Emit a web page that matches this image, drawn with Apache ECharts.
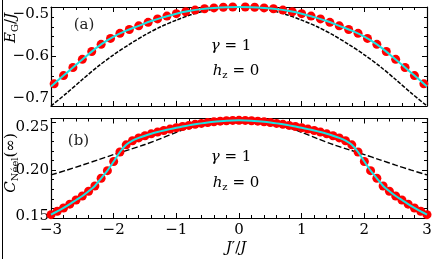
<!DOCTYPE html>
<html>
<head>
<meta charset="utf-8">
<script src="https://cdn.jsdelivr.net/npm/echarts@6/dist/echarts.min.js"></script>
<style>html,body{margin:0;padding:0;background:#fff}#c{width:435px;height:259px}</style>
</head>
<body>
<div id="c"></div>
<script>
// ---------- data ----------
// panel (a): ground-state energy E_G/J vs J'/J
const jDotsA = [-2.95,-2.8,-2.65,-2.5,-2.35,-2.2,-2.05,-1.9,-1.75,-1.6,-1.45,-1.3,-1.15,-1.0,-0.85,-0.7,-0.55,-0.4,-0.25,-0.1,
                0.1,0.25,0.4,0.55,0.7,0.85,1.0,1.15,1.3,1.45,1.6,1.75,1.9,2.05,2.2,2.35,2.5,2.65,2.8,2.95];
const egDotsA = [-0.6552,-0.6385,-0.6222,-0.6058,-0.5900,-0.5755,-0.5635,-0.5532,-0.5455,-0.5380,-0.5310,-0.5240,-0.5183,-0.5135,-0.5095,-0.5062,-0.5036,-0.5018,-0.5006,-0.5000,
                 -0.5000,-0.5006,-0.5018,-0.5036,-0.5062,-0.5095,-0.5135,-0.5183,-0.5240,-0.5310,-0.5380,-0.5455,-0.5532,-0.5635,-0.5755,-0.5900,-0.6058,-0.6222,-0.6385,-0.6552];
const jLineA = [-3.0,-2.8,-2.6,-2.4,-2.2,-2.0,-1.8,-1.6,-1.4,-1.2,-1.0,-0.8,-0.6,-0.4,-0.2,0,
                0.2,0.4,0.6,0.8,1.0,1.2,1.4,1.6,1.8,2.0,2.2,2.4,2.6,2.8,3.0];
const egLineA = [-0.6605,-0.6385,-0.6167,-0.5953,-0.5755,-0.5598,-0.5478,-0.5380,-0.5283,-0.5205,-0.5135,-0.5083,-0.5043,-0.5018,-0.5004,-0.5000,
                 -0.5004,-0.5018,-0.5043,-0.5083,-0.5135,-0.5205,-0.5283,-0.5380,-0.5478,-0.5598,-0.5755,-0.5953,-0.6167,-0.6385,-0.6605];
const jDashA = [-3,-2.75,-2.5,-2.25,-2,-1.75,-1.5,-1.25,-1,-0.75,-0.5,-0.25,0,0.25,0.5,0.75,1,1.25,1.5,1.75,2,2.25,2.5,2.75,3];
const egDashA = [-0.700,-0.674,-0.6465,-0.620,-0.5965,-0.5755,-0.5565,-0.5400,-0.5265,-0.5150,-0.5065,-0.5017,-0.5000,
                 -0.5017,-0.5065,-0.5150,-0.5265,-0.5400,-0.5565,-0.5755,-0.5965,-0.620,-0.6465,-0.674,-0.700];

// panel (b): C_Neel vs J'/J
const jB = [-3.0,-2.9,-2.8,-2.7,-2.6,-2.5,-2.4,-2.3,-2.2,-2.1,-2.0,-1.9,-1.8,-1.7,-1.6,-1.5,-1.4,-1.3,-1.2,-1.1,-1.0,-0.9,-0.8,-0.7,-0.6,-0.5,-0.4,-0.3,-0.2,-0.1,0,
            0.1,0.2,0.3,0.4,0.5,0.6,0.7,0.8,0.9,1.0,1.1,1.2,1.3,1.4,1.5,1.6,1.7,1.8,1.9,2.0,2.1,2.2,2.3,2.4,2.5,2.6,2.7,2.8,2.9,3.0];
const cDotsB = [0.1535,0.1570,0.1605,0.1645,0.1688,0.1730,0.1780,0.1835,0.1915,0.1995,0.2090,0.2190,0.2265,0.2308,0.2337,0.2360,0.2380,0.2398,0.2414,0.2429,0.2443,0.2456,0.2468,0.2479,0.2489,0.2498,0.2506,0.2512,0.2517,0.2520,0.2521,
                0.2520,0.2517,0.2512,0.2506,0.2498,0.2489,0.2479,0.2468,0.2456,0.2443,0.2429,0.2414,0.2398,0.2380,0.2360,0.2337,0.2308,0.2265,0.2190,0.2090,0.1995,0.1915,0.1835,0.1780,0.1730,0.1688,0.1645,0.1605,0.1570,0.1535];
const jDashB = [-3,-2.75,-2.5,-2.25,-2,-1.75,-1.5,-1.25,-1,-0.75,-0.5,-0.25,0,0.25,0.5,0.75,1,1.25,1.5,1.75,2,2.25,2.5,2.75,3];
const cDashB = [0.195,0.200,0.2053,0.2108,0.2163,0.2215,0.2268,0.2330,0.2395,0.2455,0.2498,0.2518,0.2525,
                0.2518,0.2498,0.2455,0.2395,0.2330,0.2268,0.2215,0.2163,0.2108,0.2053,0.200,0.195];

// axis ranges / ticks
const xTicks = {min: -3, max: 3, interval: 1};
const yRangeA = {min: -0.7, max: -0.5, interval: 0.1};
const yRangeB = {min: 0.15, max: 0.254, major: 0.05, minor: 0.01};

// ---------- helpers ----------
const FF = "'DejaVu Serif', serif";
const zip = (xs, ys) => xs.map((x, i) => [x, ys[i]]);
const minus = s => String(s).replace('-', '\u2212');
const axLine = {show: true, onZero: false, lineStyle: {color: '#000', width: 1.2}};
const noLine = {show: false, onZero: false};

function xAx(grid, pos, labels) {
  return {
    type: 'value', gridIndex: grid, position: pos, min: xTicks.min, max: xTicks.max, interval: xTicks.interval,
    axisLine: axLine,
    axisTick: {show: true, inside: true, length: 5, lineStyle: {color: '#000', width: 1}},
    minorTick: {show: true, splitNumber: 5, length: 3, lineStyle: {color: '#000', width: 1}},
    splitLine: {show: false}, minorSplitLine: {show: false},
    axisLabel: {show: labels, margin: 5, color: '#000', fontFamily: FF, fontSize: 15,
      formatter: v => minus(Math.round(v))}
  };
}
const tickCommon = (len) => ({show: true, inside: true, length: len, lineStyle: {color: '#000', width: 1}});

const option = {
  animation: false,
  backgroundColor: '#fff',
  grid: [
    {left: 51, top: 7, width: 376, height: 99, containLabel: false, outerBoundsMode: 'none'},
    {left: 51, top: 118.5, width: 376, height: 99.5, containLabel: false, outerBoundsMode: 'none'}
  ],
  xAxis: [xAx(0, 'bottom', false), xAx(0, 'top', false), xAx(1, 'bottom', true), xAx(1, 'top', false)],
  yAxis: [
    { // 0: panel a left
      type: 'value', gridIndex: 0, position: 'left', min: yRangeA.min, max: yRangeA.max, interval: yRangeA.interval,
      axisLine: axLine, axisTick: tickCommon(5),
      minorTick: {show: true, splitNumber: 5, length: 3, lineStyle: {color: '#000', width: 1}},
      splitLine: {show: false},
      axisLabel: {margin: 2, color: '#000', fontFamily: FF, fontSize: 15,
        verticalAlignMinLabel: 'bottom', verticalAlignMaxLabel: 'top',
        formatter: v => minus(v.toFixed(1))}
    },
    { // 1: panel a right
      type: 'value', gridIndex: 0, position: 'right', min: yRangeA.min, max: yRangeA.max, interval: yRangeA.interval,
      axisLine: axLine, axisTick: tickCommon(5),
      minorTick: {show: true, splitNumber: 5, length: 3, lineStyle: {color: '#000', width: 1}},
      splitLine: {show: false}, axisLabel: {show: false}
    },
    { // 2: panel b left, major
      type: 'value', gridIndex: 1, position: 'left', min: yRangeB.min, max: yRangeB.max, interval: yRangeB.major,
      axisLine: axLine, axisTick: tickCommon(5),
      splitLine: {show: false},
      axisLabel: {margin: 2, color: '#000', fontFamily: FF, fontSize: 15, showMaxLabel: false, showMinLabel: true,
        formatter: v => Math.abs(v - 0.25) < 1e-9 ? '{t|0.25}' : (Math.abs(v - 0.15) < 1e-9 ? '{b|0.15}' : v.toFixed(2)),
        rich: {t: {fontFamily: FF, fontSize: 15, color: '#000', padding: [9, 0, 0, 0]},
               b: {fontFamily: FF, fontSize: 15, color: '#000', padding: [0, 0, 3, 0]}}}
    },
    { // 3: panel b left, minor
      type: 'value', gridIndex: 1, position: 'left', min: yRangeB.min, max: yRangeB.max, interval: yRangeB.minor,
      axisLine: noLine, axisTick: tickCommon(3), splitLine: {show: false}, axisLabel: {show: false}
    },
    { // 4: panel b right, major
      type: 'value', gridIndex: 1, position: 'right', min: yRangeB.min, max: yRangeB.max, interval: yRangeB.major,
      axisLine: axLine, axisTick: tickCommon(5), splitLine: {show: false}, axisLabel: {show: false}
    },
    { // 5: panel b right, minor
      type: 'value', gridIndex: 1, position: 'right', min: yRangeB.min, max: yRangeB.max, interval: yRangeB.minor,
      axisLine: noLine, axisTick: tickCommon(3), splitLine: {show: false}, axisLabel: {show: false}
    }
  ],
  series: [
    {type: 'line', xAxisIndex: 0, yAxisIndex: 0, data: zip(jDashA, egDashA), symbol: 'none', smooth: 0.3, z: 2,
      lineStyle: {color: '#000', width: 1.5, type: [4, 1.5]}},
    {type: 'scatter', xAxisIndex: 0, yAxisIndex: 0, data: zip(jDotsA, egDotsA), symbolSize: 9, z: 3,
      itemStyle: {color: '#ff0000', opacity: 1}},
    {type: 'line', xAxisIndex: 0, yAxisIndex: 0, data: zip(jLineA, egLineA), symbol: 'none', smooth: 0.4, z: 4,
      lineStyle: {color: '#19e3e3', width: 2}},

    {type: 'line', xAxisIndex: 2, yAxisIndex: 2, data: zip(jDashB, cDashB), symbol: 'none', smooth: 0.3, z: 2,
      lineStyle: {color: '#000', width: 1.4, type: [6, 2.5]}},
    {type: 'scatter', xAxisIndex: 2, yAxisIndex: 2, data: zip(jB, cDotsB), symbolSize: 9, z: 3,
      itemStyle: {color: '#ff0000', opacity: 1}},
    {type: 'line', xAxisIndex: 2, yAxisIndex: 2, data: zip(jB, cDotsB), symbol: 'none', smooth: 0.3, z: 4,
      lineStyle: {color: '#19e3e3', width: 2}}
  ],
  graphic: [
    {type: 'line', shape: {x1: 2.5, y1: 0, x2: 2.5, y2: 259}, style: {stroke: '#000', lineWidth: 1}},
    {type: 'text', x: 84, y: 25, style: {text: '(a)', font: '15px ' + FF, fill: '#222', textAlign: 'center', textVerticalAlign: 'middle', align: 'center', verticalAlign: 'middle'}},
    {type: 'text', x: 78.5, y: 141.5, style: {text: '(b)', font: '15px ' + FF, fill: '#222', textAlign: 'center', textVerticalAlign: 'middle', align: 'center', verticalAlign: 'middle'}},
    {type: 'text', x: 231, y: 46, style: {text: '{i|γ}{r| = 1}', textAlign: 'center', textVerticalAlign: 'middle', align: 'center', verticalAlign: 'middle',
      rich: {i: {fontFamily: FF, fontStyle: 'italic', fontSize: 15, lineHeight: 18, color: '#222'},
             r: {fontFamily: FF, fontSize: 15, lineHeight: 18, color: '#222'}}}},
    {type: 'text', x: 236, y: 71, style: {text: '{i|h}{s|z}{r| = 0}', textAlign: 'center', textVerticalAlign: 'middle', align: 'center', verticalAlign: 'middle',
      rich: {i: {fontFamily: FF, fontStyle: 'italic', fontSize: 15, lineHeight: 18, color: '#222'},
             s: {fontFamily: FF, fontSize: 10, lineHeight: 10, verticalAlign: 'bottom', color: '#222'},
             r: {fontFamily: FF, fontSize: 15, lineHeight: 18, color: '#222'}}}},
    {type: 'text', x: 231, y: 157, style: {text: '{i|γ}{r| = 1}', textAlign: 'center', textVerticalAlign: 'middle', align: 'center', verticalAlign: 'middle',
      rich: {i: {fontFamily: FF, fontStyle: 'italic', fontSize: 15, lineHeight: 18, color: '#222'},
             r: {fontFamily: FF, fontSize: 15, lineHeight: 18, color: '#222'}}}},
    {type: 'text', x: 236, y: 183, style: {text: '{i|h}{s|z}{r| = 0}', textAlign: 'center', textVerticalAlign: 'middle', align: 'center', verticalAlign: 'middle',
      rich: {i: {fontFamily: FF, fontStyle: 'italic', fontSize: 15, lineHeight: 18, color: '#222'},
             s: {fontFamily: FF, fontSize: 10, lineHeight: 10, verticalAlign: 'bottom', color: '#222'},
             r: {fontFamily: FF, fontSize: 15, lineHeight: 18, color: '#222'}}}},
    {type: 'text', x: 236, y: 248, style: {text: '{i|J}{r|′/}{i|J}', textAlign: 'center', textVerticalAlign: 'middle', align: 'center', verticalAlign: 'middle',
      rich: {i: {fontFamily: FF, fontStyle: 'italic', fontSize: 15, lineHeight: 18, color: '#222'},
             r: {fontFamily: FF, fontSize: 15, lineHeight: 18, color: '#222'}}}},
    {type: 'text', x: 11, y: 28, rotation: Math.PI / 2, style: {text: '{i|E}{s|G}{r|/}{i|J}', textAlign: 'center', textVerticalAlign: 'middle', align: 'center', verticalAlign: 'middle',
      rich: {i: {fontFamily: FF, fontStyle: 'italic', fontSize: 15, lineHeight: 18, color: '#222'},
             s: {fontFamily: FF, fontSize: 10, lineHeight: 10, verticalAlign: 'bottom', color: '#222'},
             r: {fontFamily: FF, fontSize: 15, lineHeight: 18, color: '#222'}}}},
    {type: 'text', x: 11, y: 163, rotation: Math.PI / 2, style: {text: '{i|C}{s|Néel}{r|(∞)}', textAlign: 'center', textVerticalAlign: 'middle', align: 'center', verticalAlign: 'middle',
      rich: {i: {fontFamily: FF, fontStyle: 'italic', fontSize: 15, lineHeight: 18, color: '#222'},
             s: {fontFamily: FF, fontSize: 10, lineHeight: 10, verticalAlign: 'bottom', color: '#222'},
             r: {fontFamily: FF, fontSize: 15, lineHeight: 18, color: '#222'}}}}
  ]
};
const chart = echarts.init(document.getElementById('c'), null, {renderer: 'canvas'});
chart.setOption(option);
</script>
</body>
</html>
